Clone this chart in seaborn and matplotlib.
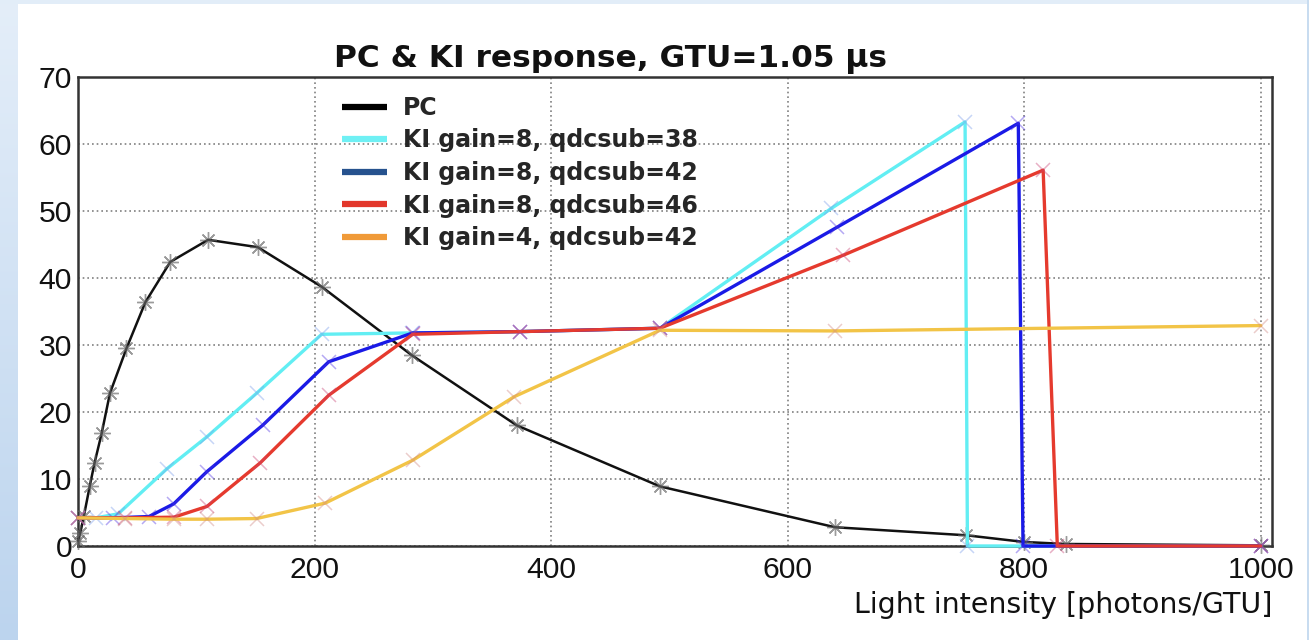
import numpy as np
import pandas as pd
import matplotlib
matplotlib.use("Agg")
import matplotlib.pyplot as plt
from matplotlib.lines import Line2D
from matplotlib.patches import Rectangle
import seaborn as sns

# ---------------- data ----------------
title = "PC & KI response, GTU=1.05 μs"
xlabel = "Light intensity [photons/GTU]"

series_labels = ["PC", "KI gain=8, qdcsub=38", "KI gain=8, qdcsub=42",
                 "KI gain=8, qdcsub=46", "KI gain=4, qdcsub=42"]

pc_x = [0, 2, 5, 10, 14, 20, 27, 41, 57, 78, 110, 152, 206, 282, 371, 492, 640, 751, 800, 835, 1000]
pc_y = [0.8, 2.0, 4.5, 9.0, 12.4, 16.8, 22.8, 29.5, 36.4, 42.4, 45.7, 44.6, 38.7, 28.5, 18.0, 8.9, 2.8, 1.6, 0.6, 0.3, 0.1]

ki38_x = [0, 15, 34, 75, 109, 151, 206, 282, 374, 492, 637, 750, 752, 1000]
ki38_y = [4.2, 4.2, 4.8, 11.5, 16.3, 22.8, 31.6, 31.8, 32.0, 32.5, 50.4, 63.3, 0.0, 0.0]

ki42_x = [0, 30, 60, 81, 109, 156, 212, 283, 374, 492, 642, 795, 799, 1000]
ki42_y = [4.2, 4.2, 4.4, 6.3, 11.1, 18.0, 27.5, 31.8, 32.0, 32.5, 47.6, 63.1, 0.0, 0.0]

ki46_x = [0, 40, 81, 109, 154, 212, 283, 374, 492, 647, 816, 828, 1000]
ki46_y = [4.2, 4.2, 4.3, 5.9, 12.4, 22.5, 31.6, 32.0, 32.5, 43.4, 56.1, 0.0, 0.0]

ki4_x = [0, 40, 81, 109, 151, 209, 283, 369, 492, 640, 1000]
ki4_y = [4.2, 4.1, 4.0, 4.0, 4.1, 6.4, 12.8, 22.3, 32.2, 32.1, 32.9]

x_ticks = [0, 200, 400, 600, 800, 1000]
y_ticks = [0, 10, 20, 30, 40, 50, 60, 70]

# ---------------- style ----------------
sns.set_style("white")
plt.rcParams["font.family"] = ["Liberation Sans", "DejaVu Sans"]

line_colors = ["#111111", "#62eef3", "#1a1ae6", "#e53a2e", "#f2c447"]
legend_colors = ["#000000", "#6ff0f4", "#26528e", "#e2372b", "#f09a38"]

W, H = 1309, 640
fig = plt.figure(figsize=(W / 100, H / 100), dpi=100, facecolor="white")

# slide background strips
bg = fig.add_axes([0, 0, 18 / W, 1], zorder=-5)
grad = np.linspace(0, 1, 256).reshape(-1, 1)
cmap = matplotlib.colors.LinearSegmentedColormap.from_list("bgc", ["#e4eef9", "#bcd4ee"])
bg.imshow(grad, aspect="auto", cmap=cmap, extent=[0, 1, 0, 1], origin="upper")
bg.axis("off")
fig.patches.append(Rectangle((0, (H - 4) / H), 1, 4 / H, transform=fig.transFigure,
                             facecolor="#e2edf8", edgecolor="none", zorder=-4))
fig.patches.append(Rectangle(((W - 2) / W, 0), 2 / W, 1, transform=fig.transFigure,
                             facecolor="#c8dcf0", edgecolor="none", zorder=-4))

ax = fig.add_axes([78 / W, (H - 546) / H, (1272 - 78) / W, (546 - 77) / H])
ax.set_facecolor("white")

# ---------------- lines ----------------
sns.lineplot(x=pc_x, y=pc_y, ax=ax, color=line_colors[0], lw=1.8, marker=(8, 2, 0),
             markersize=12, mec=(0.4, 0.4, 0.4, 0.65), mew=1.0, estimator=None,
             sort=False, clip_on=False, zorder=3)

ki_sets = [(ki38_x, ki38_y), (ki42_x, ki42_y), (ki46_x, ki46_y), (ki4_x, ki4_y)]
for (xs, ys), c in zip(ki_sets, line_colors[1:]):
    rgba = matplotlib.colors.to_rgba(c)
    mcol = (rgba[0] * 0.6 + 0.25, rgba[1] * 0.5 + 0.15, rgba[2] * 0.6 + 0.35, 0.42)
    mcol = tuple(min(1, v) for v in mcol)
    sns.lineplot(x=xs, y=ys, ax=ax, color=c, lw=2.4, marker="x", markersize=10,
                 mec=mcol, mew=1.1, estimator=None, sort=False, clip_on=False, zorder=4)

# ---------------- axes ----------------
ax.set_xlim(0, 1009.5)
ax.set_ylim(0, 70)
ax.set_xticks(x_ticks)
ax.set_yticks(y_ticks)
ax.set_xticklabels([str(t) for t in x_ticks])
ax.set_yticklabels([str(t) for t in y_ticks])
ax.xaxis.set_minor_locator(matplotlib.ticker.MultipleLocator(50))
ax.yaxis.set_minor_locator(matplotlib.ticker.MultipleLocator(2))

ax.tick_params(axis="y", which="major", direction="in", length=19, width=1.5,
               labelsize=21.7, pad=4.3, color="#333333", labelcolor="#111111")
ax.tick_params(axis="y", which="minor", direction="in", length=9, width=1.5, color="#333333")
ax.tick_params(axis="x", which="major", direction="in", length=11, width=1.5,
               labelsize=21.7, pad=7.5, color="#333333", labelcolor="#111111")
ax.tick_params(axis="x", which="minor", direction="in", length=5.8, width=1.5, color="#333333")

for s in ax.spines.values():
    s.set_visible(True)
    s.set_color("#333333")
    s.set_linewidth(1.8)

ax.grid(True, which="major", color="#808080", linestyle=(0, (1, 1.8)), linewidth=1.2)
ax.set_axisbelow(True)

ax.set_xlabel(xlabel, loc="right", fontsize=20.5, family="DejaVu Sans", color="#111111")
ax.xaxis.label.set_va("baseline")
ax.xaxis.set_label_coords(1.0, (546 - 613) / (546 - 77))
ax.set_ylabel("")

fig.text(611 / W, (H - 67) / H, title, ha="center", va="baseline",
         fontsize=22.5, fontweight="bold", family="DejaVu Sans", color="#111111")

handles = [Line2D([], [], color=c, lw=4.5, solid_capstyle="butt") for c in legend_colors]
ax.legend(handles, series_labels, loc="upper left",
          bbox_to_anchor=(342 / W, (H - 96) / H), bbox_transform=fig.transFigure,
          frameon=False, prop={"family": "DejaVu Sans", "weight": "bold", "size": 17},
          handlelength=1.9, handletextpad=0.68, labelspacing=0.36,
          borderpad=0, borderaxespad=0)

fig.savefig("out.png", dpi=100, facecolor="white")
